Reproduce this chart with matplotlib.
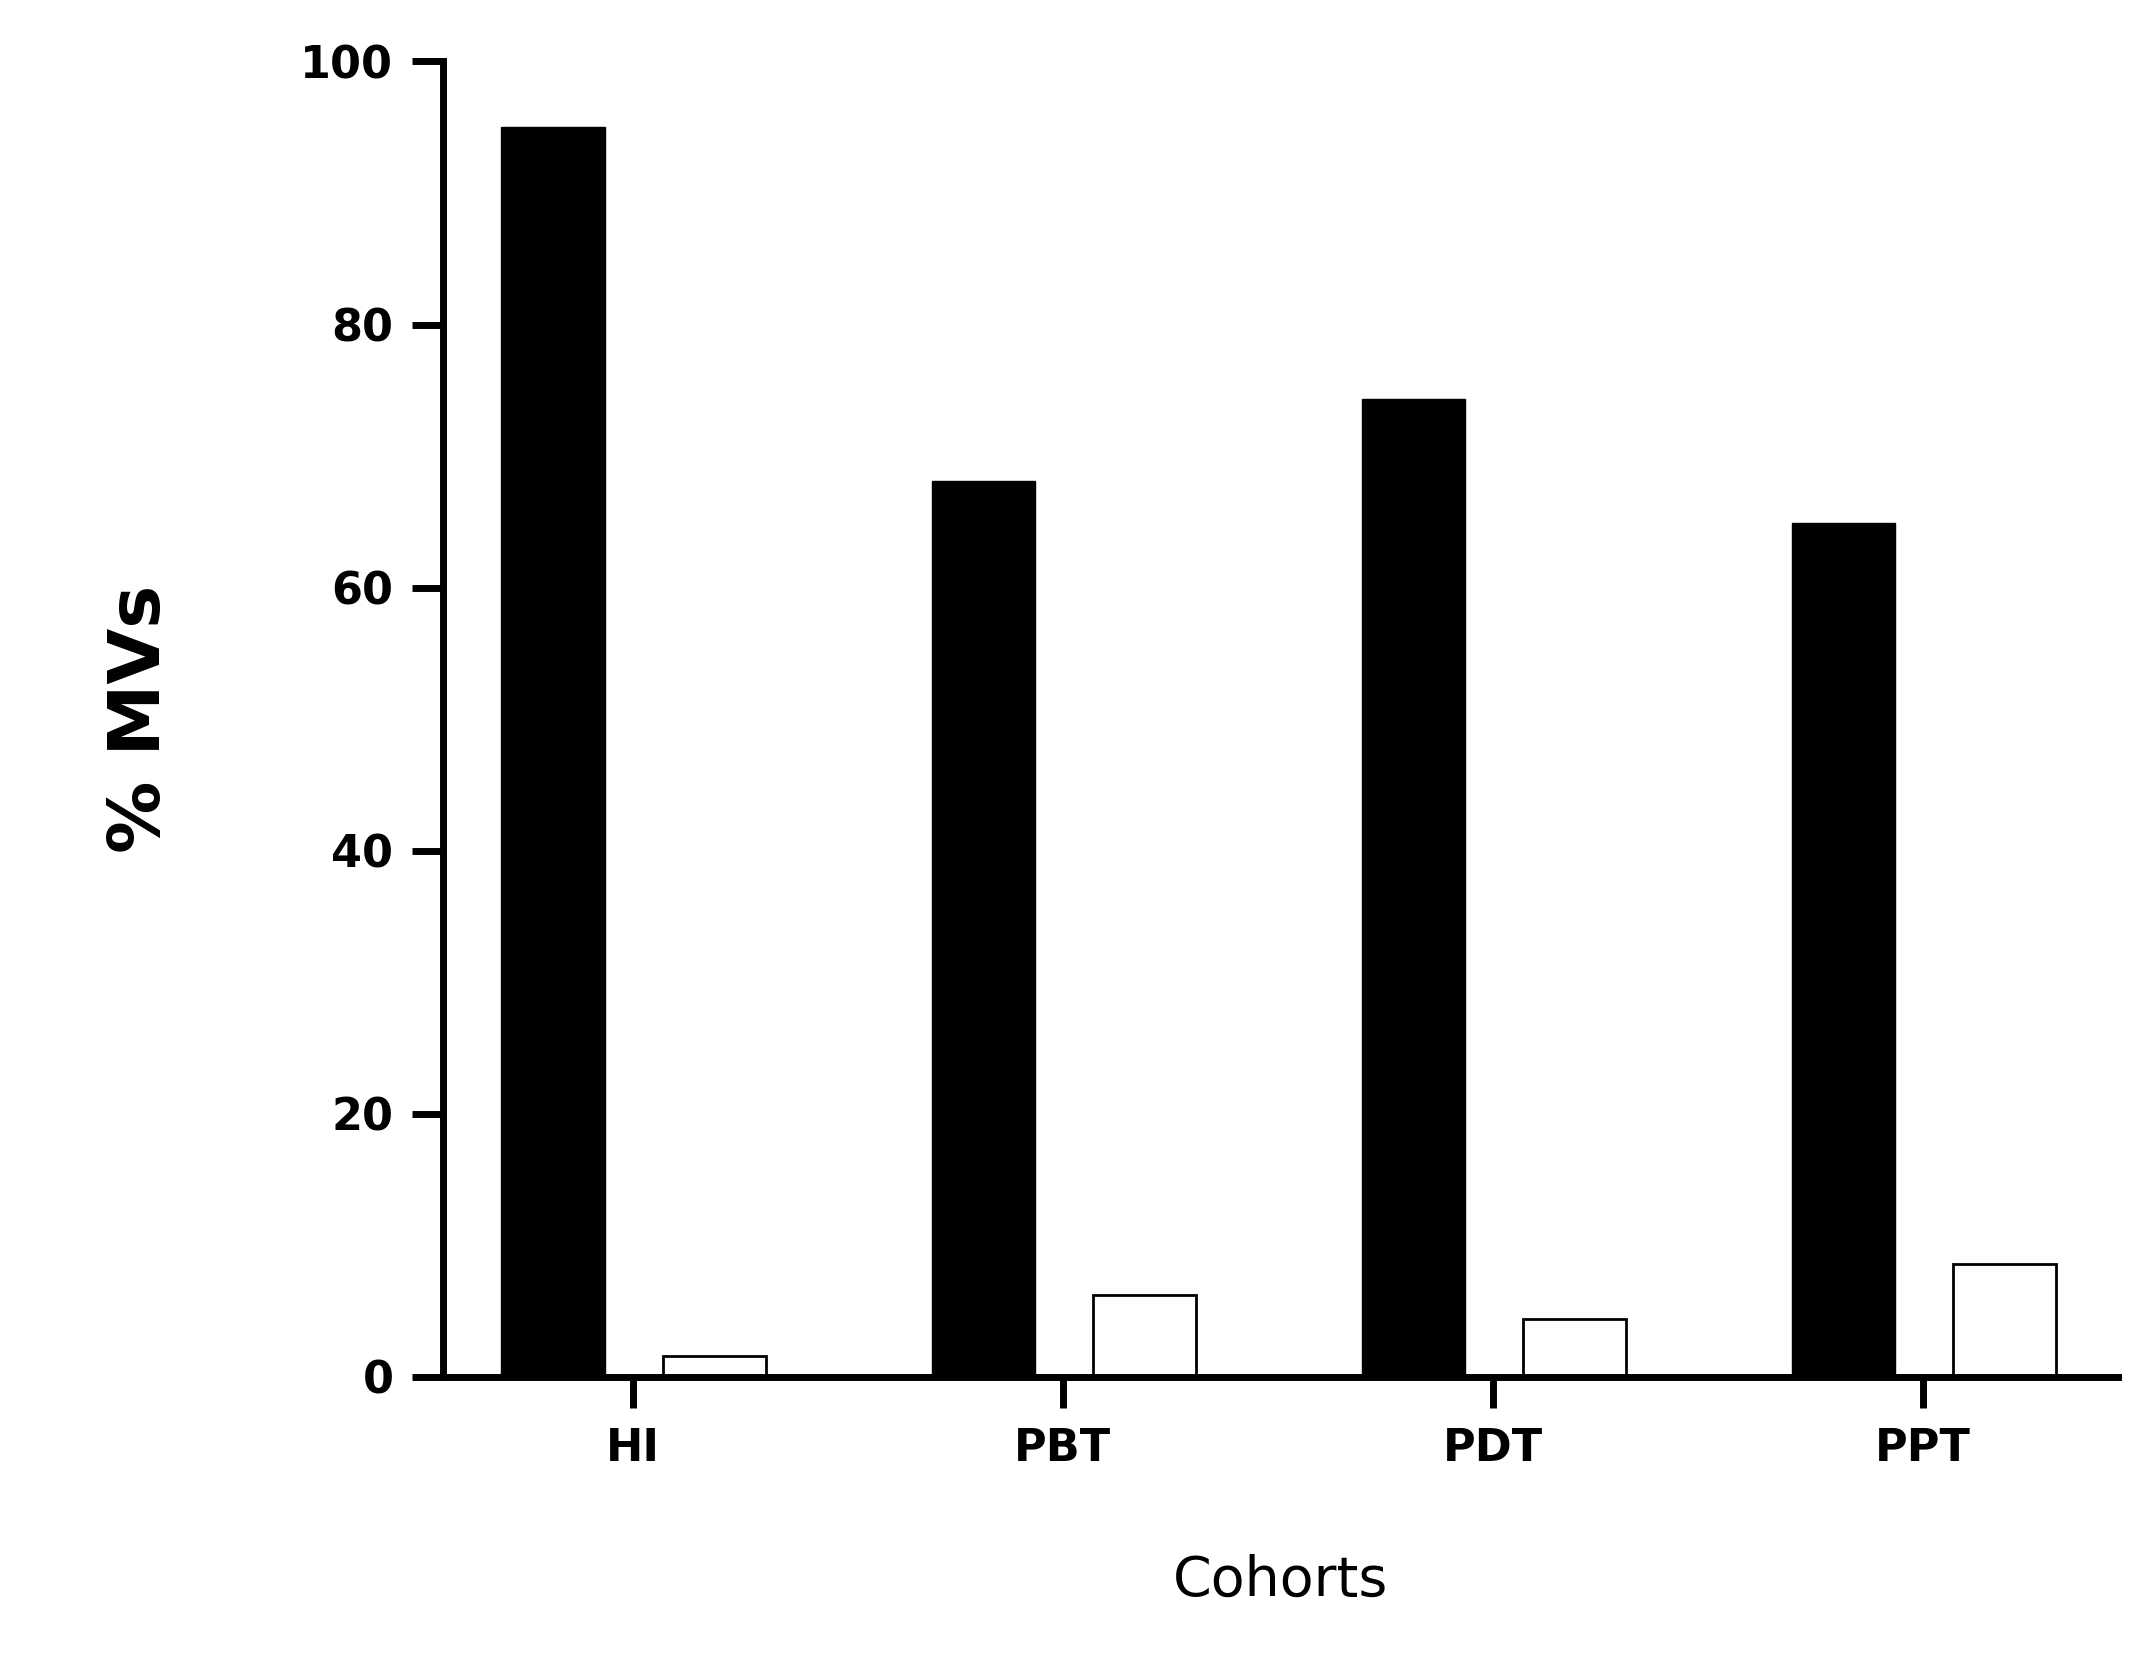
import matplotlib.pyplot as plt
import numpy as np

cohorts = ['HI', 'PBT', 'PDT', 'PPT']
black_vals = [95.0, 68.1, 74.3, 64.9]
white_vals = [1.6, 6.2, 4.4, 8.6]

fig = plt.figure(figsize=(21.42, 16.59), dpi=100)
ax = fig.add_axes([0.207, 0.17, 0.782, 0.793])
x = np.arange(len(cohorts))
w = 0.24
ax.bar(x - 0.185, black_vals, w, color='black', edgecolor='black')
ax.bar(x + 0.19, white_vals, w, color='white', edgecolor='black', linewidth=2)

ax.set_xlim(-0.44, 3.455)
ax.set_ylim(0, 100)
ax.set_yticks([0, 20, 40, 60, 80, 100])
ax.set_xticks(x)
ax.set_xticklabels(cohorts)
for s in ['top', 'right']:
    ax.spines[s].set_visible(False)
for s in ['left', 'bottom']:
    ax.spines[s].set_linewidth(5)
ax.tick_params(axis='both', width=5, length=22, labelsize=32, pad=14)
for lab in ax.get_xticklabels() + ax.get_yticklabels():
    lab.set_fontweight('bold')
ax.set_ylabel('% MVs', fontsize=52, fontweight='bold', labelpad=90)
ax.set_xlabel('Cohorts', fontsize=40, labelpad=60)

fig.savefig('out.png', dpi=100)
